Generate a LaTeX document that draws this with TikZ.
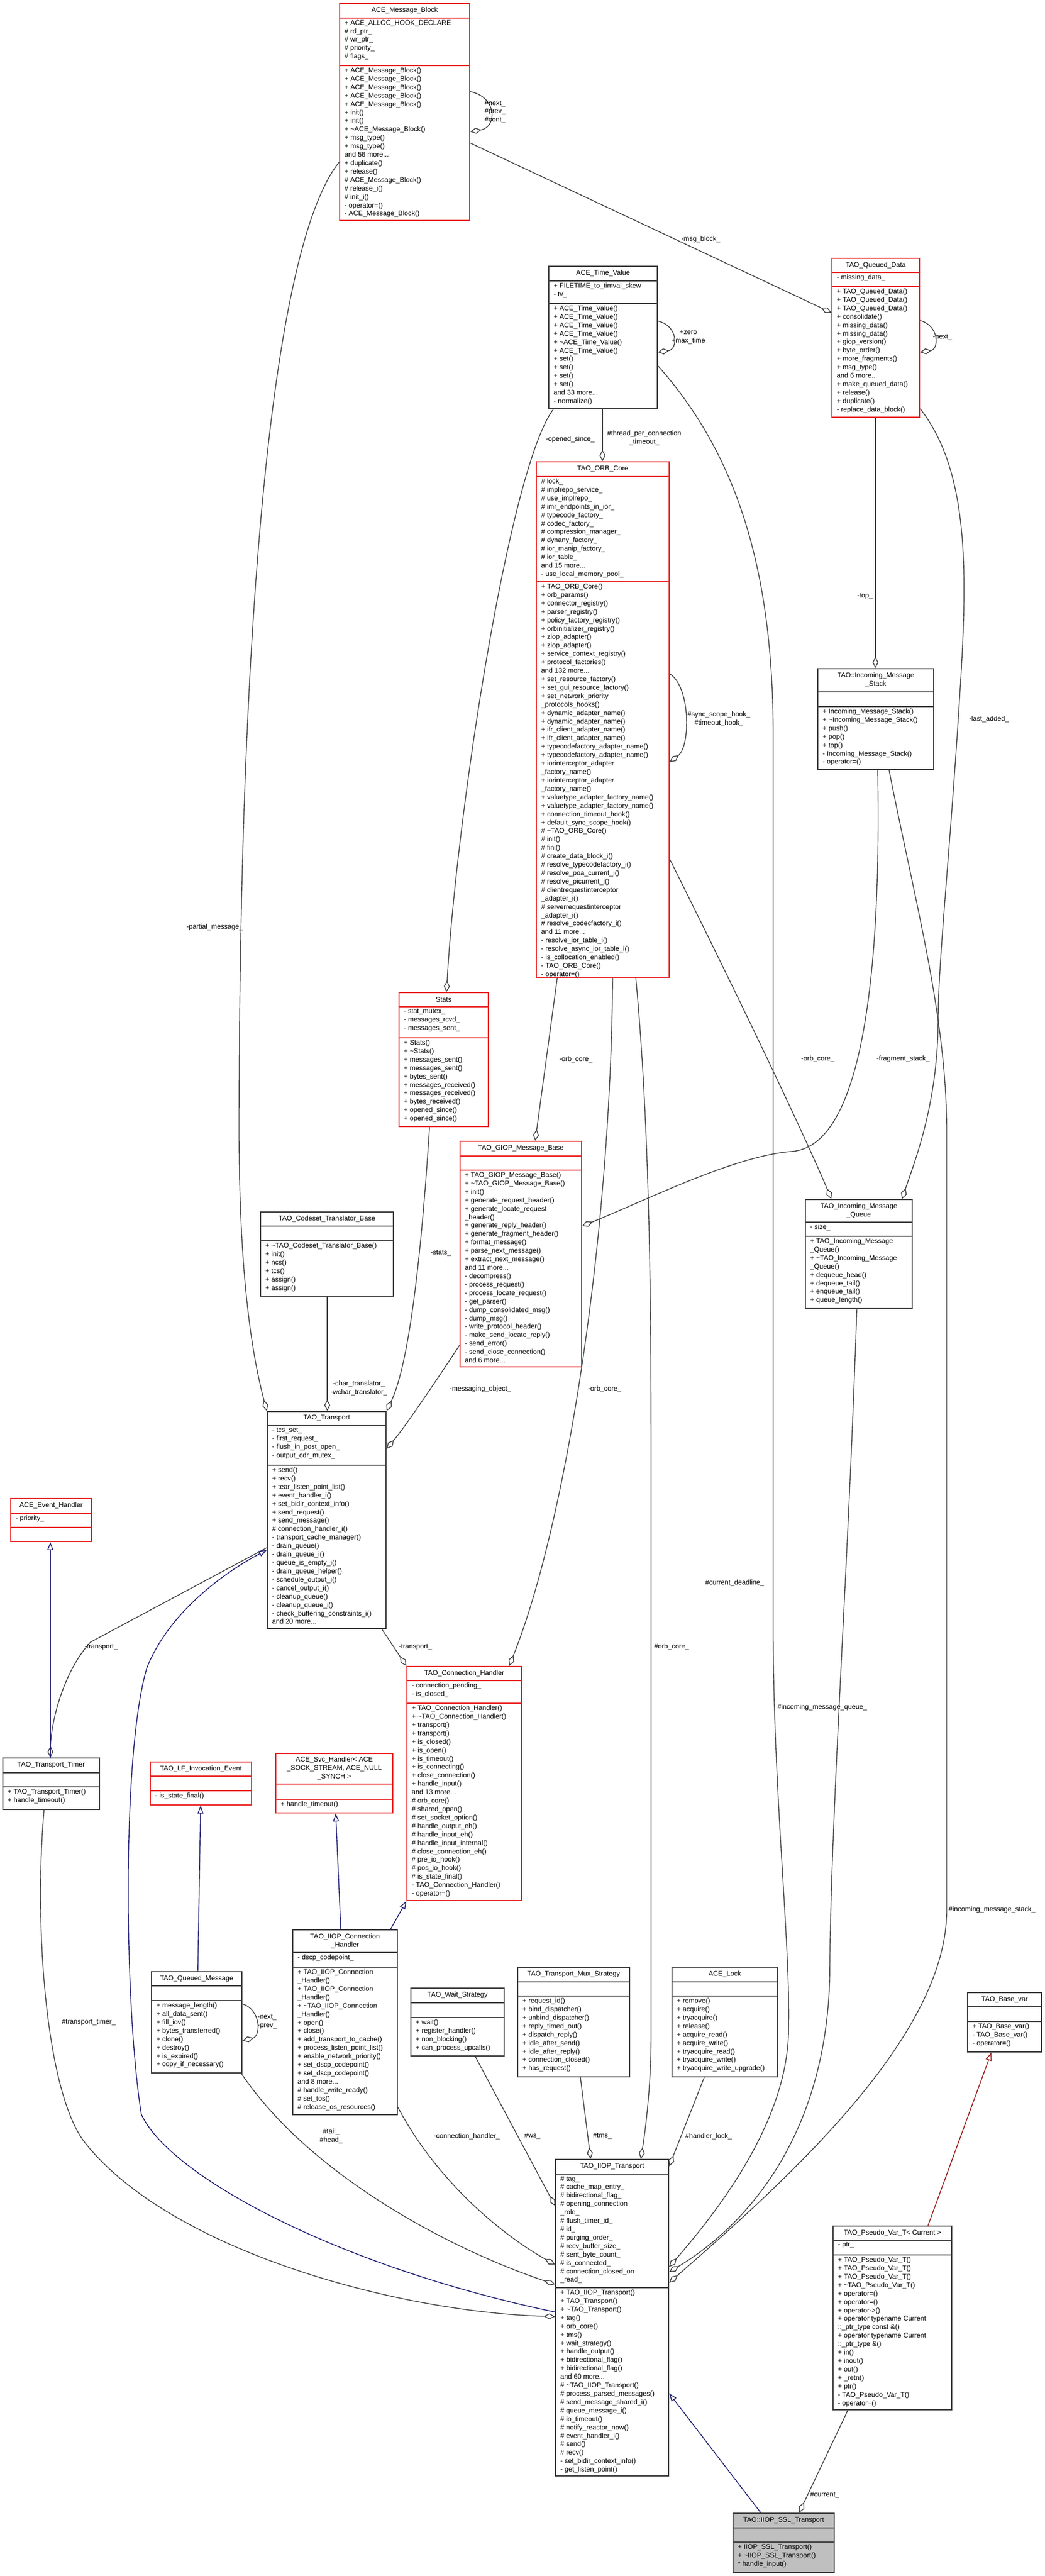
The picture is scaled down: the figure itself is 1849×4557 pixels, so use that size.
\documentclass[tikz,border=0pt]{standalone}
\usepackage{fontspec}
\setmainfont{Liberation Sans}
\usetikzlibrary{arrows.meta,fit,calc}
\definecolor{umlred}{RGB}{235,40,40}
\definecolor{umledge}{RGB}{64,64,64}
\definecolor{umlblue}{RGB}{25,25,112}
\definecolor{umlbrick}{RGB}{150,20,20}
\tikzset{
  txt/.style={inner sep=0pt, font=\fontsize{3.45}{4.24}\selectfont, align=left},
  redbox/.style={draw=umlred, line width=0.6pt},
  blackbox/.style={draw=umledge, line width=0.6pt},
  greybox/.style={draw=umledge, fill=black!25, line width=0.6pt},
  agg/.style={draw=umledge, line width=0.4pt, -{Diamond[open,length=5.7pt,width=3pt]}},
  inh/.style={draw=umlblue, line width=0.4pt, -{Triangle[open,length=4pt,width=3pt]}},
  inhred/.style={draw=umlbrick, line width=0.4pt, -{Triangle[open,length=4pt,width=3pt]}},
  lbl/.style={txt, align=center}
}
\newcommand{\dtor}{\textasciitilde}
% name, nw corner, se corner, sep1 y, sep2 y, style, title, attributes, methods
\newcommand{\umlbox}[9]{%
  \coordinate (#1-nw) at (#2); \coordinate (#1-se) at (#3);
  \node[fit=(#1-nw)(#1-se), inner sep=0pt, #6] (#1) {};
  \draw[#6] (#1.west |- 0,#4) -- (#1.east |- 0,#4);
  \draw[#6] (#1.west |- 0,#5) -- (#1.east |- 0,#5);
  \node[txt, align=center] (#1-t) at ($(#1.north)!.5!(#1.north |- 0,#4)$) {#7};
  \path (#1.west |- 0,#4) ++(9,3) node[txt, anchor=north west] (#1-a) {#8};
  \path (#1.west |- 0,#5) ++(9,3) node[txt, anchor=north west] (#1-m) {#9};
}
\begin{document}
\catcode`\_=12
\begin{tikzpicture}[x=0.01cm, y=-0.01cm]
\useasboundingbox (0,0) rectangle (1849,4557);
% classes
\umlbox{mblock}{601,6}{831,390}{32}{116}{redbox}{ACE_Message_Block}
 {+ ACE_ALLOC_HOOK_DECLARE\\\# rd_ptr_\\\# wr_ptr_\\\# priority_\\\# flags_}
 {+ ACE_Message_Block()\\+ ACE_Message_Block()\\+ ACE_Message_Block()\\+ ACE_Message_Block()\\+ ACE_Message_Block()\\+ init()\\+ init()\\+ \dtor ACE_Message_Block()\\+ msg_type()\\+ msg_type()\\and 56 more...\\+ duplicate()\\+ release()\\\# ACE_Message_Block()\\\# release_i()\\\# init_i()\\- operator=()\\- ACE_Message_Block()}
\umlbox{timeval}{971,471}{1163,723}{497}{537}{blackbox}{ACE_Time_Value}
 {+ FILETIME_to_timval_skew\\- tv_}
 {+ ACE_Time_Value()\\+ ACE_Time_Value()\\+ ACE_Time_Value()\\+ ACE_Time_Value()\\+ \dtor ACE_Time_Value()\\+ ACE_Time_Value()\\+ set()\\+ set()\\+ set()\\+ set()\\and 33 more...\\- normalize()}
\umlbox{qdata}{1472,457}{1627,738}{482}{507}{redbox}{TAO_Queued_Data}
 {- missing_data_}
 {+ TAO_Queued_Data()\\+ TAO_Queued_Data()\\+ TAO_Queued_Data()\\+ consolidate()\\+ missing_data()\\+ missing_data()\\+ giop_version()\\+ byte_order()\\+ more_fragments()\\+ msg_type()\\and 6 more...\\+ make_queued_data()\\+ release()\\+ duplicate()\\- replace_data_block()}
\umlbox{orbcore}{949,817}{1184,1729}{843}{1029}{redbox}{TAO_ORB_Core}
 {\# lock_\\\# implrepo_service_\\\# use_implrepo_\\\# imr_endpoints_in_ior_\\\# typecode_factory_\\\# codec_factory_\\\# compression_manager_\\\# dynany_factory_\\\# ior_manip_factory_\\\# ior_table_\\and 15 more...\\- use_local_memory_pool_}
 {+ TAO_ORB_Core()\\+ orb_params()\\+ connector_registry()\\+ parser_registry()\\+ policy_factory_registry()\\+ orbinitializer_registry()\\+ ziop_adapter()\\+ ziop_adapter()\\+ service_context_registry()\\+ protocol_factories()\\and 132 more...\\+ set_resource_factory()\\+ set_gui_resource_factory()\\+ set_network_priority\\_protocols_hooks()\\+ dynamic_adapter_name()\\+ dynamic_adapter_name()\\+ ifr_client_adapter_name()\\+ ifr_client_adapter_name()\\+ typecodefactory_adapter_name()\\+ typecodefactory_adapter_name()\\+ iorinterceptor_adapter\\_factory_name()\\+ iorinterceptor_adapter\\_factory_name()\\+ valuetype_adapter_factory_name()\\+ valuetype_adapter_factory_name()\\+ connection_timeout_hook()\\+ default_sync_scope_hook()\\\# \dtor TAO_ORB_Core()\\\# init()\\\# fini()\\\# create_data_block_i()\\\# resolve_typecodefactory_i()\\\# resolve_poa_current_i()\\\# resolve_picurrent_i()\\\# clientrequestinterceptor\\_adapter_i()\\\# serverrequestinterceptor\\_adapter_i()\\\# resolve_codecfactory_i()\\and 11 more...\\- resolve_ior_table_i()\\- resolve_async_ior_table_i()\\- is_collocation_enabled()\\- TAO_ORB_Core()\\- operator=()}
\umlbox{mstack}{1447,1183}{1652,1361}{1224}{1250}{blackbox}{TAO::Incoming_Message\\_Stack}
 {}
 {+ Incoming_Message_Stack()\\+ \dtor Incoming_Message_Stack()\\+ push()\\+ pop()\\+ top()\\- Incoming_Message_Stack()\\- operator=()}
\umlbox{stats}{706,1756}{864,1993}{1781}{1836}{redbox}{Stats}
 {- stat_mutex_\\- messages_rcvd_\\- messages_sent_}
 {+ Stats()\\+ \dtor Stats()\\+ messages_sent()\\+ messages_sent()\\+ bytes_sent()\\+ messages_received()\\+ messages_received()\\+ bytes_received()\\+ opened_since()\\+ opened_since()}
\umlbox{giop}{814,2019}{1029,2418}{2045}{2070}{redbox}{TAO_GIOP_Message_Base}
 {}
 {+ TAO_GIOP_Message_Base()\\+ \dtor TAO_GIOP_Message_Base()\\+ init()\\+ generate_request_header()\\+ generate_locate_request\\_header()\\+ generate_reply_header()\\+ generate_fragment_header()\\+ format_message()\\+ parse_next_message()\\+ extract_next_message()\\and 11 more...\\- decompress()\\- process_request()\\- process_locate_request()\\- get_parser()\\- dump_consolidated_msg()\\- dump_msg()\\- write_protocol_header()\\- make_send_locate_reply()\\- send_error()\\- send_close_connection()\\and 6 more...}
\umlbox{mqueue}{1425,2122}{1614,2315}{2162}{2187}{blackbox}{TAO_Incoming_Message\\_Queue}
 {- size_}
 {+ TAO_Incoming_Message\\_Queue()\\+ \dtor TAO_Incoming_Message\\_Queue()\\+ dequeue_head()\\+ dequeue_tail()\\+ enqueue_tail()\\+ queue_length()}
\umlbox{codeset}{461,2144}{696,2293}{2169}{2195}{blackbox}{TAO_Codeset_Translator_Base}
 {}
 {+ \dtor TAO_Codeset_Translator_Base()\\+ init()\\+ ncs()\\+ tcs()\\+ assign()\\+ assign()}
\umlbox{transport}{473,2497}{683,2881}{2522}{2592}{blackbox}{TAO_Transport}
 {- tcs_set_\\- first_request_\\- flush_in_post_open_\\- output_cdr_mutex_}
 {+ send()\\+ recv()\\+ tear_listen_point_list()\\+ event_handler_i()\\+ set_bidir_context_info()\\+ send_request()\\+ send_message()\\\# connection_handler_i()\\- transport_cache_manager()\\- drain_queue()\\- drain_queue_i()\\- queue_is_empty_i()\\- drain_queue_helper()\\- schedule_output_i()\\- cancel_output_i()\\- cleanup_queue()\\- cleanup_queue_i()\\- check_buffering_constraints_i()\\and 20 more...}
\umlbox{evhandler}{19,2651}{162,2727}{2677}{2702}{redbox}{ACE_Event_Handler}
 {- priority_}
 {}
\umlbox{ttimer}{5,3110}{176,3201}{3136}{3161}{blackbox}{TAO_Transport_Timer}
 {}
 {+ TAO_Transport_Timer()\\+ handle_timeout()}
\umlbox{lfevent}{266,3117}{445,3193}{3142}{3168}{redbox}{TAO_LF_Invocation_Event}
 {}
 {- is_state_final()}
\umlbox{svchandler}{488,3102}{695,3207}{3156}{3183}{redbox}{ACE_Svc_Handler< ACE\\_SOCK_STREAM, ACE_NULL\\_SYNCH >}
 {}
 {+ handle_timeout()}
\umlbox{connhandler}{720,2948}{923,3362}{2973}{3013}{redbox}{TAO_Connection_Handler}
 {- connection_pending_\\- is_closed_}
 {+ TAO_Connection_Handler()\\+ \dtor TAO_Connection_Handler()\\+ transport()\\+ transport()\\+ is_closed()\\+ is_open()\\+ is_timeout()\\+ is_connecting()\\+ close_connection()\\+ handle_input()\\and 13 more...\\\# orb_core()\\\# shared_open()\\\# set_socket_option()\\\# handle_output_eh()\\\# handle_input_eh()\\\# handle_input_internal()\\\# close_connection_eh()\\\# pre_io_hook()\\\# pos_io_hook()\\\# is_state_final()\\- TAO_Connection_Handler()\\- operator=()}
\umlbox{iiopconn}{518,3414}{703,3741}{3454}{3480}{blackbox}{TAO_IIOP_Connection\\_Handler}
 {- dscp_codepoint_}
 {+ TAO_IIOP_Connection\\_Handler()\\+ TAO_IIOP_Connection\\_Handler()\\+ \dtor TAO_IIOP_Connection\\_Handler()\\+ open()\\+ close()\\+ add_transport_to_cache()\\+ process_listen_point_list()\\+ enable_network_priority()\\+ set_dscp_codepoint()\\+ set_dscp_codepoint()\\and 8 more...\\\# handle_write_ready()\\\# set_tos()\\\# release_os_resources()}
\umlbox{qmessage}{268,3488}{428,3667}{3513}{3539}{blackbox}{TAO_Queued_Message}
 {}
 {+ message_length()\\+ all_data_sent()\\+ fill_iov()\\+ bytes_transferred()\\+ clone()\\+ destroy()\\+ is_expired()\\+ copy_if_necessary()}
\umlbox{waitstrat}{727,3517}{892,3637}{3543}{3569}{blackbox}{TAO_Wait_Strategy}
 {}
 {+ wait()\\+ register_handler()\\+ non_blocking()\\+ can_process_upcalls()}
\umlbox{muxstrat}{916,3481}{1114,3674}{3506}{3531}{blackbox}{TAO_Transport_Mux_Strategy}
 {}
 {+ request_id()\\+ bind_dispatcher()\\+ unbind_dispatcher()\\+ reply_timed_out()\\+ dispatch_reply()\\+ idle_after_send()\\+ idle_after_reply()\\+ connection_closed()\\+ has_request()}
\umlbox{acelock}{1189,3480}{1376,3674}{3506}{3531}{blackbox}{ACE_Lock}
 {}
 {+ remove()\\+ acquire()\\+ tryacquire()\\+ release()\\+ acquire_read()\\+ acquire_write()\\+ tryacquire_read()\\+ tryacquire_write()\\+ tryacquire_write_upgrade()}
\umlbox{basevar}{1712,3525}{1843,3630}{3550}{3576}{blackbox}{TAO_Base_var}
 {}
 {+ TAO_Base_var()\\- TAO_Base_var()\\- operator=()}
\umlbox{iioptrans}{983,3820}{1183,4380}{3846}{4047}{blackbox}{TAO_IIOP_Transport}
 {\# tag_\\\# cache_map_entry_\\\# bidirectional_flag_\\\# opening_connection\\_role_\\\# flush_timer_id_\\\# id_\\\# purging_order_\\\# recv_buffer_size_\\\# sent_byte_count_\\\# is_connected_\\\# connection_closed_on\\_read_}
 {+ TAO_IIOP_Transport()\\+ TAO_Transport()\\+ \dtor TAO_Transport()\\+ tag()\\+ orb_core()\\+ tms()\\+ wait_strategy()\\+ handle_output()\\+ bidirectional_flag()\\+ bidirectional_flag()\\and 60 more...\\\# \dtor TAO_IIOP_Transport()\\\# process_parsed_messages()\\\# send_message_shared_i()\\\# queue_message_i()\\\# io_timeout()\\\# notify_reactor_now()\\\# event_handler_i()\\\# send()\\\# recv()\\- set_bidir_context_info()\\- get_listen_point()}
\umlbox{pseudovar}{1474,3938}{1684,4263}{3963}{3989}{blackbox}{TAO_Pseudo_Var_T< Current >}
 {- ptr_}
 {+ TAO_Pseudo_Var_T()\\+ TAO_Pseudo_Var_T()\\+ TAO_Pseudo_Var_T()\\+ \dtor TAO_Pseudo_Var_T()\\+ operator=()\\+ operator=()\\+ operator->()\\+ operator typename Current\\::_ptr_type const \&()\\+ operator typename Current\\::_ptr_type \&()\\+ in()\\+ inout()\\+ out()\\+ _retn()\\+ ptr()\\- TAO_Pseudo_Var_T()\\- operator=()}
\umlbox{ssltrans}{1297,4446}{1476,4551}{4472}{4497}{greybox}{TAO::IIOP_SSL_Transport}
 {}
 {+ IIOP_SSL_Transport()\\+ \dtor IIOP_SSL_Transport()\\* handle_input()}
% self loops
\draw[agg] (mblock.east |- 0,162) .. controls (880,172) and (880,225) .. (mblock.east |- 0,233);
\node[txt, anchor=west] (l-mblock) at (857,198) {\#next_\\\#prev_\\\#cont_};
\draw[agg] (timeval.east |- 0,568) .. controls (1200,576) and (1200,618) .. (timeval.east |- 0,623);
\node[lbl] (l-timeval) at (1218,597) {+zero\\+max_time};
\draw[agg] (qdata.east |- 0,567) .. controls (1662,576) and (1662,618) .. (qdata.east |- 0,623);
\node[txt, anchor=west] (l-qdata) at (1650,597) {-next_};
\draw[agg] (orbcore.east |- 0,1192) .. controls (1222,1215) and (1222,1320) .. (orbcore.east |- 0,1348);
\node[lbl] (l-orbcore) at (1272,1272) {\#sync_scope_hook_\\\#timeout_hook_};
\draw[agg] (qmessage.east |- 0,3545) .. controls (462,3555) and (462,3602) .. (qmessage.east |- 0,3610);
\node[txt, anchor=west] (l-qmessage) at (455,3576) {-next_\\-prev_};
% aggregations
\draw[agg] (mblock.east |- 0,253) -- (qdata.west |- 0,553);
\node[txt] (l-msgblock) at (1240,423) {-msg_block_};
\draw[agg] (mblock.west |- 0,287) .. controls (470,450) and (423,1200) .. (423,2000) .. controls (423,2300) and (455,2430) .. (transport.north west);
\node[txt] (l-partial) at (380,1640) {-partial_message_};
\draw[agg] (timeval.south -| 1066,0) -- (orbcore.north -| 1066,0);
\node[lbl] (l-thread) at (1140,775) {\#thread_per_connection\\_timeout_};
\draw[agg] (timeval.south -| 979,0) .. controls (900,830) and (807,1450) .. (stats.north -| 790,0);
\node[txt] (l-opened) at (1009,777) {-opened_since_};
\draw[agg] (qdata.south -| 1549,0) -- (mstack.north -| 1549,0);
\node[txt, anchor=east] (l-top) at (1545,1055) {-top_};
\draw[agg] (qdata.east |- 0,723) .. controls (1712,830) and (1712,1000) .. (1700,1200) .. controls (1682,1500) and (1660,1700) .. (1660,1800) .. controls (1660,1950) and (1620,2050) .. (mqueue.north -| 1596,0);
\node[txt] (l-lastadded) at (1750,1272) {-last_added_};
\draw[agg] (mstack.south -| 1553,0) .. controls (1560,1750) and (1520,2030) .. (1400,2037) .. controls (1300,2045) and (1150,2120) .. (giop.east |- 0,2169);
\node[txt] (l-fragment) at (1598,1873) {-fragment_stack_};
\draw[agg] (mstack.south -| 1573,0) .. controls (1620,1600) and (1675,1800) .. (1675,2000) -- (1675,3380) .. controls (1675,3600) and (1400,3850) .. (iioptrans.east |- 0,4038);
\node[txt, anchor=west] (l-instack) at (1678,3378) {\#incoming_message_stack_};
\draw[agg] (orbcore.east |- 0,1520) .. controls (1300,1750) and (1420,2000) .. (mqueue.north -| 1471,0);
\node[txt] (l-orbqueue) at (1447,1873) {-orb_core_};
\draw[agg] (orbcore.south -| 986,0) -- (giop.north -| 947,0);
\node[txt] (l-orbgiop) at (1019,1874) {-orb_core_};
\draw[agg] (orbcore.south -| 1084,0) .. controls (1080,2200) and (1000,2700) .. (connhandler.north -| 901,0);
\node[txt] (l-orbconn) at (1070,2457) {-orb_core_};
\draw[agg] (orbcore.south -| 1125,0) .. controls (1150,2000) and (1152,2300) .. (1152,2600) -- (1152,3600) .. controls (1152,3700) and (1140,3780) .. (iioptrans.north -| 1134,0);
\node[txt, anchor=west] (l-orbiiop) at (1157,2913) {\#orb_core_};
\draw[agg] (timeval.east |- 0,647) .. controls (1300,800) and (1368,1000) .. (1368,1300) -- (1368,2900) .. controls (1370,3200) and (1400,3450) .. (1395,3600) .. controls (1390,3750) and (1280,3900) .. (iioptrans.east |- 0,4010);
\node[txt] (l-deadline) at (1300,2800) {\#current_deadline_};
\draw[agg] (mqueue.south -| 1516,0) .. controls (1500,2800) and (1470,3200) .. (1468,3500) .. controls (1460,3800) and (1300,3950) .. (iioptrans.east |- 0,4019);
\node[txt] (l-inqueue) at (1455,3020) {\#incoming_message_queue_};
\draw[agg] (stats.south -| 760,0) .. controls (750,2150) and (730,2400) .. (transport.north east);
\node[txt] (l-stats) at (780,2217) {-stats_};
\draw[agg] (codeset.south -| 579,0) -- (transport.north -| 579,0);
\node[lbl] (l-translator) at (635,2456) {-char_translator_\\-wchar_translator_};
\draw[agg] (giop.west |- 0,2380) .. controls (780,2430) and (720,2520) .. (transport.east |- 0,2563);
\node[txt] (l-messaging) at (850,2457) {-messaging_object_};
\draw[agg] (transport.south east |- 0,2881) ++(-9,0) -- (connhandler.north west);
\node[txt] (l-transconn) at (735,2914) {-transport_};
\draw[agg] (transport.west |- 0,2738) -- (160,2905) .. controls (110,2960) and (90,3050) .. (ttimer.north -| 89,0);
\node[txt] (l-transtimer) at (179,2914) {-transport_};
\draw[agg] (ttimer.south -| 78,0) .. controls (60,3400) and (80,3700) .. (150,3790) .. controls (300,3980) and (700,4090) .. (iioptrans.west |- 0,4098);
\node[txt] (l-timer) at (157,3577) {\#transport_timer_};
\draw[agg] (qmessage.south east) ++(-2,0) .. controls (550,3850) and (800,3980) .. (iioptrans.west |- 0,4041);
\node[lbl] (l-tailhead) at (586,3779) {\#tail_\\\#head_};
\draw[agg] (iiopconn.east |- 0,3728) .. controls (780,3870) and (900,3960) .. (iioptrans.west |- 0,4006);
\node[txt] (l-connh) at (826,3779) {-connection_handler_};
\draw[agg] (waitstrat.south -| 841,0) -- (iioptrans.west |- 0,3902);
\node[txt] (l-ws) at (942,3779) {\#ws_};
\draw[agg] (muxstrat.south -| 1027,0) -- (iioptrans.north -| 1045,0);
\node[txt] (l-tms) at (1066,3779) {\#tms_};
\draw[agg] (acelock.south -| 1246,0) -- (iioptrans.east |- 0,3832);
\node[txt, anchor=west] (l-lock) at (1212,3779) {\#handler_lock_};
\draw[agg] (pseudovar.south -| 1500,0) -- (ssltrans.north -| 1414,0);
\node[txt, anchor=west] (l-current) at (1433,4413) {\#current_};
% inheritance
\draw[inh] (ttimer.north -| 89,0) -- (evhandler.south -| 89,0);
\draw[inh] (iioptrans.west |- 0,4090) .. controls (600,4010) and (300,3850) .. (250,3740) .. controls (220,3550) and (215,3100) .. (260,2950) .. controls (300,2850) and (400,2780) .. (transport.west |- 0,2742);
\draw[inh] (qmessage.north -| 350,0) -- (lfevent.south -| 355,0);
\draw[inh] (iiopconn.north -| 603,0) -- (svchandler.south -| 594,0);
\draw[inh] (iiopconn.north -| 691,0) -- (connhandler.south west);
\draw[inh] (ssltrans.north -| 1346,0) -- (iioptrans.east |- 0,4234);
\draw[inhred] (pseudovar.north -| 1642,0) -- (basevar.south -| 1754,0);
\end{tikzpicture}
\end{document}
